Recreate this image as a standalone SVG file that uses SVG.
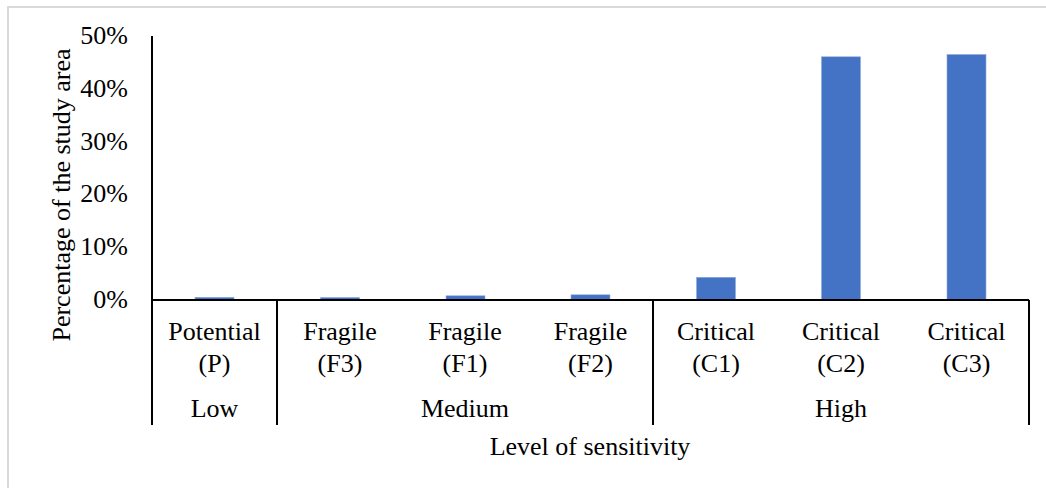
<svg xmlns="http://www.w3.org/2000/svg" width="1046" height="488" viewBox="0 0 1046 488">
<style>
text{font-family:"Liberation Serif","Times New Roman",serif;font-size:26px;fill:#000}
.tick{text-anchor:end}
.mid{text-anchor:middle}
.bar{fill:#4472c4;stroke:#8faadc;stroke-width:0.6}
.ax{stroke:#000;stroke-width:2;fill:none}
</style>
<rect x="0" y="0" width="1046" height="488" fill="#fff"/>
<rect x="8" y="7" width="1060" height="500" fill="#fff" stroke="#d9d9d9" stroke-width="2"/>
<g id="y-ticks">
<text class="tick" x="128" y="44">50%</text>
<text class="tick" x="128" y="97">40%</text>
<text class="tick" x="128" y="150">30%</text>
<text class="tick" x="128" y="202">20%</text>
<text class="tick" x="128" y="255">10%</text>
<text class="tick" x="128" y="308">0%</text>
</g>
<text id="y-title" class="mid" transform="translate(70,195) rotate(-90)">Percentage of the study area</text>
<g id="bars">
<rect class="bar" x="195" y="297.3" width="39" height="2.7"/>
<rect class="bar" x="320.5" y="297.5" width="39" height="2.5"/>
<rect class="bar" x="446" y="295.8" width="39" height="4.2"/>
<rect class="bar" x="571" y="294.8" width="39" height="5.2"/>
<rect class="bar" x="696.5" y="277.3" width="39" height="22.7"/>
<rect class="bar" x="821.5" y="56.8" width="39" height="243.2"/>
<rect class="bar" x="947" y="54.5" width="39" height="245.5"/>
</g>
<g id="axes">
<line class="ax" x1="152" y1="36" x2="152" y2="425"/>
<line class="ax" x1="151" y1="300" x2="1029" y2="300"/>
<line class="ax" x1="277" y1="300" x2="277" y2="425"/>
<line class="ax" x1="653" y1="300" x2="653" y2="425"/>
<line class="ax" x1="1029" y1="300" x2="1029" y2="425"/>
</g>
<g id="categories">
<text class="mid" x="214.5" y="340">Potential</text>
<text class="mid" x="214.5" y="372">(P)</text>
<text class="mid" x="340" y="340">Fragile</text>
<text class="mid" x="340" y="372">(F3)</text>
<text class="mid" x="465" y="340">Fragile</text>
<text class="mid" x="465" y="372">(F1)</text>
<text class="mid" x="590.5" y="340">Fragile</text>
<text class="mid" x="590.5" y="372">(F2)</text>
<text class="mid" x="716" y="340">Critical</text>
<text class="mid" x="716" y="372">(C1)</text>
<text class="mid" x="841" y="340">Critical</text>
<text class="mid" x="841" y="372">(C2)</text>
<text class="mid" x="966.5" y="340">Critical</text>
<text class="mid" x="966.5" y="372">(C3)</text>
</g>
<g id="groups">
<text class="mid" x="214.5" y="417">Low</text>
<text class="mid" x="465" y="417">Medium</text>
<text class="mid" x="841" y="417">High</text>
</g>
<text id="x-title" class="mid" x="590" y="455">Level of sensitivity</text>
</svg>
